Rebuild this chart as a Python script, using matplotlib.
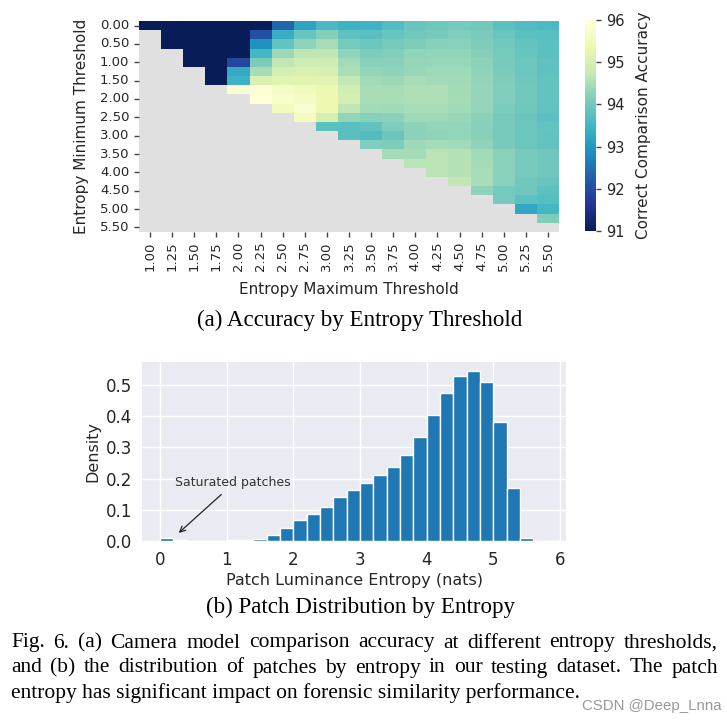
import numpy as np
import matplotlib
matplotlib.use("Agg")
import matplotlib.pyplot as plt
import seaborn as sns
import pandas as pd

N = np.nan

# accuracy grid: rows = entropy min threshold, cols = entropy max threshold
min_thresh = ["%.2f" % (0.25 * i) for i in range(23)]
max_thresh = ["%.2f" % (1.0 + 0.25 * j) for j in range(19)]

acc_rows = [
    [89.0, 89.5, 90.0, 90.2, 90.5, 90.8, 92.35, 93.18, 93.59, 93.45, 93.47, 93.67, 93.88, 93.96, 94.01, 93.99, 93.79, 93.67, 93.61],
    [N, 89.5, 90.0, 90.3, 90.6, 92.04, 93.36, 93.89, 94.18, 93.80, 93.75, 93.88, 93.98, 94.05, 94.13, 94.08, 93.91, 93.79, 93.75],
    [N, 89.8, 90.2, 90.5, 90.8, 92.90, 93.87, 94.26, 94.46, 94.04, 93.92, 94.03, 94.11, 94.20, 94.22, 94.12, 93.97, 93.85, 93.76],
    [N, N, 90.0, 90.4, 90.7, 93.52, 94.37, 94.66, 94.69, 94.28, 94.10, 94.16, 94.27, 94.30, 94.30, 94.18, 94.03, 93.89, 93.78],
    [N, N, 90.2, 90.6, 91.91, 94.09, 94.71, 94.85, 94.85, 94.43, 94.21, 94.22, 94.32, 94.33, 94.33, 94.23, 94.06, 93.92, 93.80],
    [N, N, N, 90.5, 93.28, 94.47, 94.96, 95.03, 94.99, 94.51, 94.29, 94.26, 94.33, 94.39, 94.39, 94.26, 94.08, 93.93, 93.81],
    [N, N, N, 90.8, 93.43, 95.06, 95.18, 95.21, 95.20, 94.72, 94.40, 94.36, 94.47, 94.41, 94.40, 94.29, 94.11, 93.95, 93.84],
    [N, N, N, N, 95.90, 95.94, 95.65, 95.51, 95.36, 94.91, 94.48, 94.46, 94.52, 94.52, 94.43, 94.31, 94.13, 93.99, 93.85],
    [N, N, N, N, N, 95.98, 95.76, 95.65, 95.41, 94.98, 94.49, 94.48, 94.52, 94.52, 94.45, 94.32, 94.13, 93.99, 93.85],
    [N] * 6 + [95.58, 95.83, 95.36, 94.69, 94.43, 94.41, 94.49, 94.49, 94.40, 94.29, 94.10, 93.95, 93.83],
    [N] * 7 + [95.62, 94.98, 94.30, 94.19, 94.23, 94.39, 94.39, 94.33, 94.22, 94.03, 93.90, 93.79],
    [N] * 8 + [93.77, 93.75, 93.83, 94.12, 94.24, 94.31, 94.30, 94.19, 94.06, 93.93, 93.84],
    [N] * 9 + [93.75, 93.67, 93.91, 94.24, 94.26, 94.29, 94.19, 94.05, 93.92, 93.83],
    [N] * 10 + [94.13, 94.11, 94.38, 94.45, 94.41, 94.25, 94.05, 93.92, 93.83],
    [N] * 11 + [94.45, 94.45, 94.65, 94.58, 94.42, 94.22, 94.05, 93.95],
    [N] * 12 + [94.63, 94.65, 94.59, 94.44, 94.21, 94.05, 93.95],
    [N] * 13 + [94.65, 94.59, 94.48, 94.21, 94.05, 93.95],
    [N] * 14 + [94.70, 94.48, 94.21, 93.95, 93.88],
    [N] * 15 + [94.26, 94.02, 93.95, 93.78],
    [N] * 16 + [94.02, 93.76, 93.70],
    [N] * 17 + [93.25, 93.52],
    [N] * 18 + [94.12],
    [N] * 19,
]

# patch entropy histogram (bin width 0.2 nats)
bin_edges = [round(0.2 * k, 1) for k in range(31)]
density = [0.011, 0.002, 0.001, 0.001, 0.001, 0.002, 0.004, 0.008, 0.020, 0.041,
           0.066, 0.085, 0.110, 0.142, 0.165, 0.185, 0.213, 0.237, 0.277, 0.334,
           0.405, 0.473, 0.529, 0.544, 0.509, 0.382, 0.171, 0.009, 0.0, 0.0]

caption_a = "(a) Accuracy by Entropy Threshold"
caption_b = "(b) Patch Distribution by Entropy"
fig_caption = [
    "Fig. 6.  (a) Camera model comparison accuracy at different entropy thresholds,",
    "and (b) the distribution of patches by entropy in our testing dataset. The patch",
    "entropy has significant impact on forensic similarity performance.",
]

W, H = 727, 724
fig = plt.figure(figsize=(W / 100, H / 100), dpi=100)
fig.patch.set_facecolor("white")

def fx(px):
    return px / W

def fy(py):
    return 1 - py / H

txt_col = "#262626"

# ---- heatmap ----
ax1 = fig.add_axes([fx(139), fy(232), fx(559) - fx(139), fy(21) - fy(232)])
cax = fig.add_axes([fx(585), fy(231), fx(596) - fx(585), fy(20) - fy(231)])
df = pd.DataFrame(acc_rows, index=min_thresh, columns=max_thresh)
sns.heatmap(df, ax=ax1, cbar_ax=cax, cmap="YlGnBu_r", vmin=91, vmax=96,
            xticklabels=1, yticklabels=2,
            cbar_kws={"label": "Correct Comparison Accuracy"})
ax1.set_facecolor("#e0e0e0")
ax1.set_xlabel("Entropy Maximum Threshold", fontsize=11, color=txt_col)
ax1.set_ylabel("Entropy Minimum Threshold", fontsize=11, color=txt_col)
ax1.tick_params(axis="both", length=3.5, width=1, color="#444444",
                labelsize=9.5, labelcolor=txt_col)
plt.setp(ax1.get_xticklabels(), rotation=90)
plt.setp(ax1.get_yticklabels(), rotation=0)
ax1.xaxis.set_label_coords(0.5, -0.237)
ax1.yaxis.set_label_coords(-0.12, 0.5)
cax.tick_params(length=3.5, width=1, color="#444444", labelsize=10.5,
                labelcolor=txt_col)
cax.yaxis.label.set_size(11)
cax.yaxis.label.set_color(txt_col)
cax.yaxis.set_label_coords(4.6, 0.5)

# ---- histogram ----
ax2 = fig.add_axes([fx(142), fy(541), fx(566) - fx(142), fy(362) - fy(541)])
ax2.set_facecolor("#EAEAF2")
ax2.bar(bin_edges[:-1], density, width=0.2, align="edge", color="#1f77b4",
        edgecolor="white", linewidth=1, zorder=2)
ax2.set_xlim(-0.27, 6.09)
ax2.set_ylim(0, 0.574)
ax2.set_xticks(range(7))
ax2.set_yticks([0.0, 0.1, 0.2, 0.3, 0.4, 0.5])
ax2.yaxis.set_major_formatter(matplotlib.ticker.FormatStrFormatter("%.1f"))
ax2.grid(True, color="white", linewidth=1, zorder=0)
ax2.set_axisbelow(True)
for s in ax2.spines.values():
    s.set_visible(False)
ax2.tick_params(axis="both", length=0, labelsize=12, labelcolor=txt_col)
ax2.tick_params(axis="y", pad=7)
ax2.tick_params(axis="x", pad=7)
ax2.set_xlabel("Patch Luminance Entropy (nats)", fontsize=11.5, color=txt_col)
ax2.set_ylabel("Density", fontsize=11.5, color=txt_col)
ax2.xaxis.set_label_coords(0.5, -0.178)
ax2.yaxis.set_label_coords(-0.099, 0.5)
ax2.text(0.225, 0.176, "Saturated patches", fontsize=9, color="#333333")
ax2.annotate("", xy=(0.25, 0.02), xytext=(0.95, 0.155),
             arrowprops=dict(arrowstyle="->", color="#222222", lw=0.9))

# ---- captions ----
serif = "Liberation Serif"
fig.text(fx(360), fy(320), caption_a, family=serif, fontsize=16.6,
         ha="center", va="center")
fig.text(fx(360), fy(607), caption_b, family=serif, fontsize=16.6,
         ha="center", va="center")

def justified(line, x0, x1, y, size):
    words = line.split()
    r = fig.canvas.get_renderer()
    objs = [fig.text(0, fy(y), w, family=serif, fontsize=size, va="center")
            for w in words]
    widths = [o.get_window_extent(r).width for o in objs]
    gap = (x1 - x0 - sum(widths)) / (len(words) - 1)
    x = x0
    for o, w in zip(objs, widths):
        o.set_x(fx(x))
        x += w + gap

cap_size = 15.5
justified(fig_caption[0], 11, 718, 643, cap_size)
justified(fig_caption[1], 11, 718, 668, cap_size)
fig.text(fx(11), fy(693), fig_caption[2], family=serif, fontsize=cap_size,
         va="center")

fig.text(fx(722), fy(706), "CSDN @Deep_Lnna", family="Liberation Sans",
         fontsize=10.8, color="#999999", ha="right", va="center")

fig.savefig("out.png", dpi=100)
